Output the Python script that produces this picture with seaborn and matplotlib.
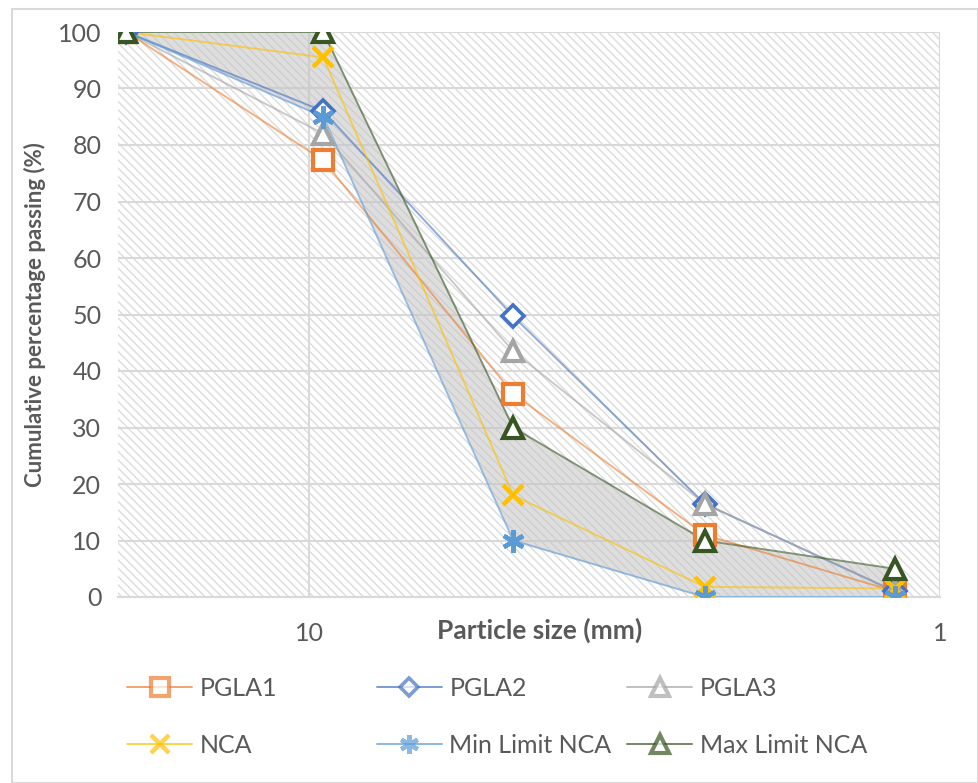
import matplotlib
matplotlib.use("Agg")
import matplotlib.pyplot as plt
from matplotlib.lines import Line2D
from matplotlib.patches import Rectangle
import seaborn as sns
import pandas as pd

# Sieve sizes (mm) and cumulative percentage passing for each aggregate
sizes = [19.5, 9.5, 4.75, 2.36, 1.18]
pgla1 = [100, 77.3, 36.0, 11.0, 1.0]
pgla2 = [100, 86.0, 49.7, 16.5, 1.0]
pgla3 = [100, 82.0, 43.5, 16.5, 1.0]
nca = [100, 95.5, 18.0, 1.8, 1.5]
min_limit = [100, 85, 10, 0, 0]
max_limit = [100, 100, 30, 10, 5]

series_names = ["PGLA1", "PGLA2", "PGLA3", "NCA", "Min Limit NCA", "Max Limit NCA"]
series_values = [pgla1, pgla2, pgla3, nca, min_limit, max_limit]
x_ticks = [10, 1]
y_ticks = list(range(0, 101, 10))

styles = {
    "PGLA1": dict(color="#ED7D31", marker="s", ms=15, mfc="white", mew=3.0),
    "PGLA2": dict(color="#4472C4", marker="D", ms=11, mfc="white", mew=2.6),
    "PGLA3": dict(color="#A5A5A5", marker="^", ms=15, mfc="white", mew=3.0),
    "NCA": dict(color="#FFC000", marker="x", ms=15, mfc="none", mew=3.2),
    "Min Limit NCA": dict(color="#5B9BD5", marker=(6, 2, 0), ms=16, mfc="none", mew=3.2),
    "Max Limit NCA": dict(color="#375623", marker="^", ms=15, mfc="white", mew=3.0),
}

sns.set_theme(style="white")
plt.rcParams["font.family"] = ["Lato", "DejaVu Sans"]
plt.rcParams["hatch.linewidth"] = 1.0
plt.rcParams["hatch.color"] = "#dcdcdc"

text_color = "#595959"

fig = plt.figure(figsize=(9.79, 7.83), dpi=100)
ax = fig.add_axes([118 / 979, 1 - 597 / 783, (940 - 118) / 979, (597 - 32) / 783])

# Chart area border
fig.add_artist(Rectangle((12 / 979, 0), (978 - 12) / 979, 1 - 9 / 783,
                         transform=fig.transFigure, fill=False,
                         edgecolor="#d9d9d9", lw=1.5))

# Hatched plot-area background
ax.add_patch(Rectangle((0, 0), 1, 1, transform=ax.transAxes, facecolor="white",
                       edgecolor="#dcdcdc", hatch="\\\\\\\\", lw=0, zorder=0))

ax.set_xscale("log")
ax.set_xlim(20.1, 1)
ax.set_ylim(0, 100)

# Envelope between the grading limits
ax.fill_between(sizes, min_limit, max_limit, color="#c4c4c4", alpha=0.55,
                lw=0, zorder=1)

for name, vals in zip(series_names, series_values):
    st = styles[name]
    df = pd.DataFrame({"size": sizes, "passing": vals})
    sns.lineplot(data=df, x="size", y="passing", ax=ax, color=st["color"],
                 lw=1.4, alpha=0.6, legend=False, zorder=3, sort=False)
    ax.plot(sizes, vals, ls="none", marker=st["marker"], ms=st["ms"],
            mfc=st["mfc"], mec=st["color"], mew=st["mew"], zorder=4)

ax.set_xticks(x_ticks)
ax.set_xticklabels([str(t) for t in x_ticks])
ax.xaxis.set_minor_locator(matplotlib.ticker.NullLocator())
ax.set_yticks(y_ticks)
ax.grid(True, which="major", axis="both", color="#d9d9d9", lw=1.5, zorder=0.5)
ax.set_axisbelow(True)
for s in ax.spines.values():
    s.set_visible(False)
ax.spines["bottom"].set_visible(True)
ax.spines["bottom"].set_color("#d9d9d9")
ax.spines["bottom"].set_linewidth(1.5)

ax.tick_params(axis="both", length=0, labelsize=18, labelcolor=text_color)
ax.tick_params(axis="x", pad=18)
ax.tick_params(axis="y", pad=12)

ax.set_xlabel("Particle size (mm)", fontsize=19, fontweight="bold", color=text_color)
ax.xaxis.set_label_coords(0.513, -0.036)
ax.set_ylabel("Cumulative percentage passing (%)", fontsize=16, fontweight="bold",
              color=text_color)
ax.yaxis.set_label_coords(-0.087, 0.5)

handles = {}
for name in series_names:
    st = styles[name]
    handles[name] = Line2D([], [], color=st["color"], lw=1.4, alpha=0.7,
                           marker=st["marker"], ms=st["ms"] * 0.85, mfc=st["mfc"],
                           mec=st["color"], mew=st["mew"])

# Legend laid out row by row in three evenly spaced columns
columns = [["PGLA1", "NCA"], ["PGLA2", "Min Limit NCA"], ["PGLA3", "Max Limit NCA"]]
col_left = [117, 367, 617]
for names, x0 in zip(columns, col_left):
    leg = fig.legend([handles[n] for n in names], names, ncol=1, loc="upper left",
                     bbox_to_anchor=(x0 / 979, 1 - 667 / 783), frameon=False,
                     fontsize=18, handlelength=2.6, labelspacing=1.35,
                     handletextpad=0.3, borderaxespad=0)
    for t in leg.get_texts():
        t.set_color(text_color)

fig.savefig("out.png", dpi=100)
